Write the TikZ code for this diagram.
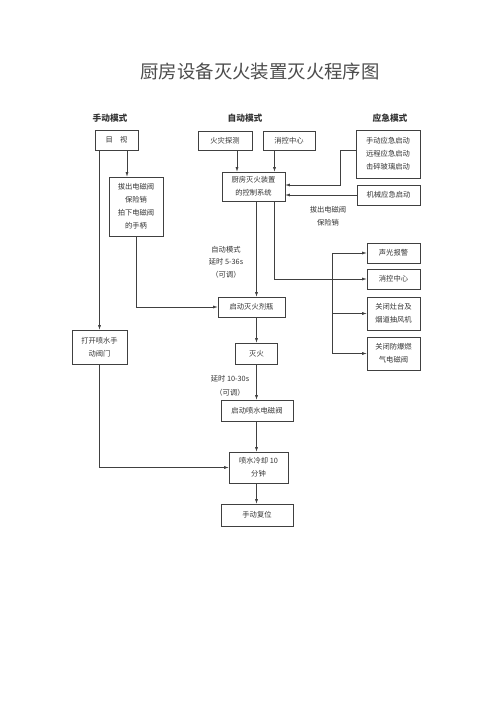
\documentclass[tikz,border=0pt]{standalone}
\usepackage{fontspec}
\setmainfont{Noto Sans CJK SC}
\usetikzlibrary{arrows.meta}

\begin{document}
\begin{tikzpicture}
		[x=1pt, y=-1pt,
		every node/.style={text=black!80, align=center},
		box/.style={draw=black!75, line width=0.6pt, inner sep=0pt,
			font=\fontsize{7.3}{13}\selectfont},
		kopf/.style={font=\fontsize{8.7}{10}\selectfont\bfseries},
		notiz/.style={font=\fontsize{7.3}{13}\selectfont},
		pfeil/.style={draw=black!75, line width=0.6pt, -{Latex[length=4.5pt,width=3pt]}},
		linie/.style={draw=black!75, line width=0.6pt},
		]
		\useasboundingbox (0,0) rectangle (500,707);

		\node[text=black!70, font=\fontsize{18.4}{22}\selectfont] (titel) at (260,72) {厨房设备灭火装置灭火程序图};
		\node[kopf] (manuell) at (110,118) {手动模式};
		\node[kopf] (auto) at (245,118) {自动模式};
		\node[kopf] (notfall) at (390,118) {应急模式};

		% manuell
		\node[box, minimum width=43, minimum height=20] (muShi) at (116.5,140) {目\quad 视};
		\node[box, minimum width=54, minimum height=59] (baChu) at (136,206.5)
			{拔出电磁阀\\保险销\\拍下电磁阀\\的手柄};
		\node[box, minimum width=55, minimum height=34] (daKai) at (99.5,347) {打开喷水手\\动阀门};

		% automatisch
		\node[box, minimum width=54, minimum height=19] (huoZai) at (225,141) {火灾探测};
		\node[box, minimum width=52, minimum height=19] (xiaoKong) at (289,141) {消控中心};
		\node[box, minimum width=63, minimum height=29] (kongZhi) at (253.5,186.5)
			{厨房灭火装置\\的控制系统};
		\node[box, minimum width=67, minimum height=20] (qiDong) at (251.5,307) {启动灭火剂瓶};
		\node[box, minimum width=42, minimum height=21] (mieHuo) at (256.5,353.5) {灭火};
		\node[box, minimum width=72, minimum height=21] (penShui) at (257,410.5) {启动喷水电磁阀};
		\node[box, minimum width=59, minimum height=31] (lengQue) at (258.5,467.5) {喷水冷却 10\\分钟};
		\node[box, minimum width=72, minimum height=22] (fuWei) at (257,515) {手动复位};

		% Notfall
		\node[box, minimum width=64, minimum height=48] (yingJi) at (388,154)
			{手动应急启动\\远程应急启动\\击碎玻璃启动};
		\node[box, minimum width=63, minimum height=20] (jiXie) at (388.5,195) {机械应急启动};

		% rechte Spalte
		\node[box, minimum width=53, minimum height=20] (shengGuang) at (393.5,253) {声光报警};
		\node[box, minimum width=53, minimum height=20] (xiaoKongB) at (393.5,279) {消控中心};
		\node[box, minimum width=53, minimum height=33] (zaoTai) at (393.5,313.5) {关闭灶台及\\烟道抽风机};
		\node[box, minimum width=53, minimum height=33] (ranQi) at (393.5,353.5) {关闭防爆燃\\气电磁阀};

		\node[notiz] (notizA) at (328,216) {拔出电磁阀\\保险销};
		\node[notiz, font=\fontsize{7.3}{12.5}\selectfont] (notizB) at (226,262) {自动模式\\延时 5-36s\\（可调）};
		\node[notiz, font=\fontsize{7.3}{14}\selectfont] (notizC) at (230,386) {延时 10-30s\\（可调）};

		\coordinate (xA) at (127,0);
		\coordinate (xB) at (237,0);
		\coordinate (xC) at (274.5,0);
		\coordinate (xE) at (332,0);

		\draw[pfeil] (muShi.south -| daKai.north) -- (daKai.north);
		\draw[pfeil] (muShi.south -| xA) -- (baChu.north -| xA);
		\draw[pfeil] (baChu.south) |- (qiDong.west);
		\draw[pfeil] (daKai.south) |- (lengQue.west);

		\draw[pfeil] (huoZai.south -| xB) -- (kongZhi.north -| xB);
		\draw[pfeil] (xiaoKong.south -| xC) -- (kongZhi.north -| xC);
		\draw[pfeil] ([yshift=4pt]yingJi.west) -- ++(-15,0) |- ([yshift=1.5pt]kongZhi.east);
		\draw[pfeil] (jiXie.west) -- (jiXie.west -| kongZhi.east);

		\draw[pfeil] (kongZhi.south -| mieHuo.north) -- (qiDong.north -| mieHuo.north);
		\draw[pfeil] (kongZhi.south -| xC) |- (xiaoKongB.west);
		\draw[linie] (shengGuang.west -| xE) -- (ranQi.west -| xE);
		\foreach \ziel in {shengGuang, zaoTai, ranQi}
			\draw[pfeil] (\ziel.west -| xE) -- (\ziel.west);

		\draw[pfeil] (qiDong.south -| mieHuo.north) -- (mieHuo.north);
		\draw[pfeil] (mieHuo.south) -- (mieHuo.south |- penShui.north);
		\draw[pfeil] (penShui.south -| mieHuo.south) -- (lengQue.north -| mieHuo.south);
		\draw[pfeil] (lengQue.south -| mieHuo.south) -- (fuWei.north -| mieHuo.south);
	\end{tikzpicture}
\end{document}
